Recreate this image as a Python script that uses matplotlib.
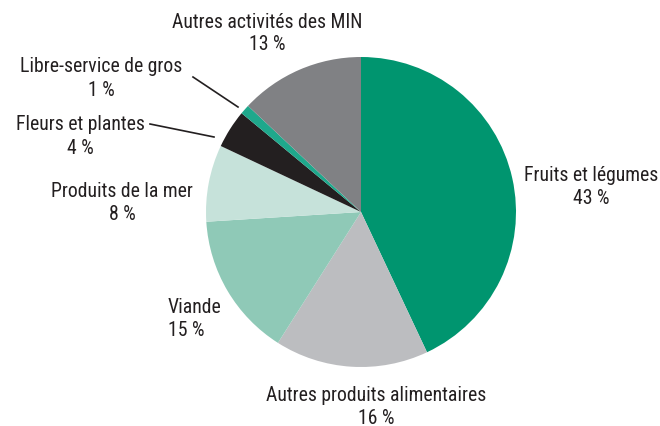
import matplotlib
matplotlib.use("Agg")
import matplotlib.pyplot as plt

labels = ["Fruits et légumes", "Autres produits alimentaires", "Viande",
          "Produits de la mer", "Fleurs et plantes", "Libre-service de gros",
          "Autres activités des MIN"]
shares = [43, 16, 15, 8, 4, 1, 13]
colors = ["#00956f", "#bcbdc0", "#8fc9b7", "#c6e2da", "#231f20", "#1fa88c", "#808184"]

plt.rcParams["font.family"] = ["Roboto Condensed", "DejaVu Sans"]

W, H = 660, 427
fig = plt.figure(figsize=(6.6, 4.27), dpi=100)
ax = fig.add_axes([0, 0, 1, 1])

cx, cy, r = 361, H - 213, 155
ax.pie(shares, colors=colors, startangle=90, counterclock=False,
       center=(cx, cy), radius=r, frame=True,
       wedgeprops=dict(linewidth=0))
ax.set_xlim(0, W)
ax.set_ylim(0, H)
ax.set_aspect("equal")
ax.axis("off")

fs = 14.2
tc = "#231f20"
# label text centre in pixels from top-left
pos = {
    "Autres activités des MIN": (267, 22, "center"),
    "Libre-service de gros": (101, 67, "center"),
    "Fleurs et plantes": (80, 125, "center"),
    "Produits de la mer": (122, 192, "center"),
    "Fruits et légumes": (591, 176, "center"),
    "Viande": (168, 308, "left"),
    "Autres produits alimentaires": (376, 396, "center"),
}
for lab, val in zip(labels, shares):
    x, y, ha = pos[lab]
    ax.text(x, H - y, lab, ha=ha, va="center", fontsize=fs, color=tc)
    ax.text(x, H - y - 23, f"{val} %", ha=ha, va="center", fontsize=fs, color=tc)

# leader lines
ax.plot([193, 238], [H - 78, H - 108], color="#231f20", lw=1.2)
ax.plot([150, 214], [H - 125, H - 138], color="#231f20", lw=1.2)

fig.savefig("out.png", dpi=100)
